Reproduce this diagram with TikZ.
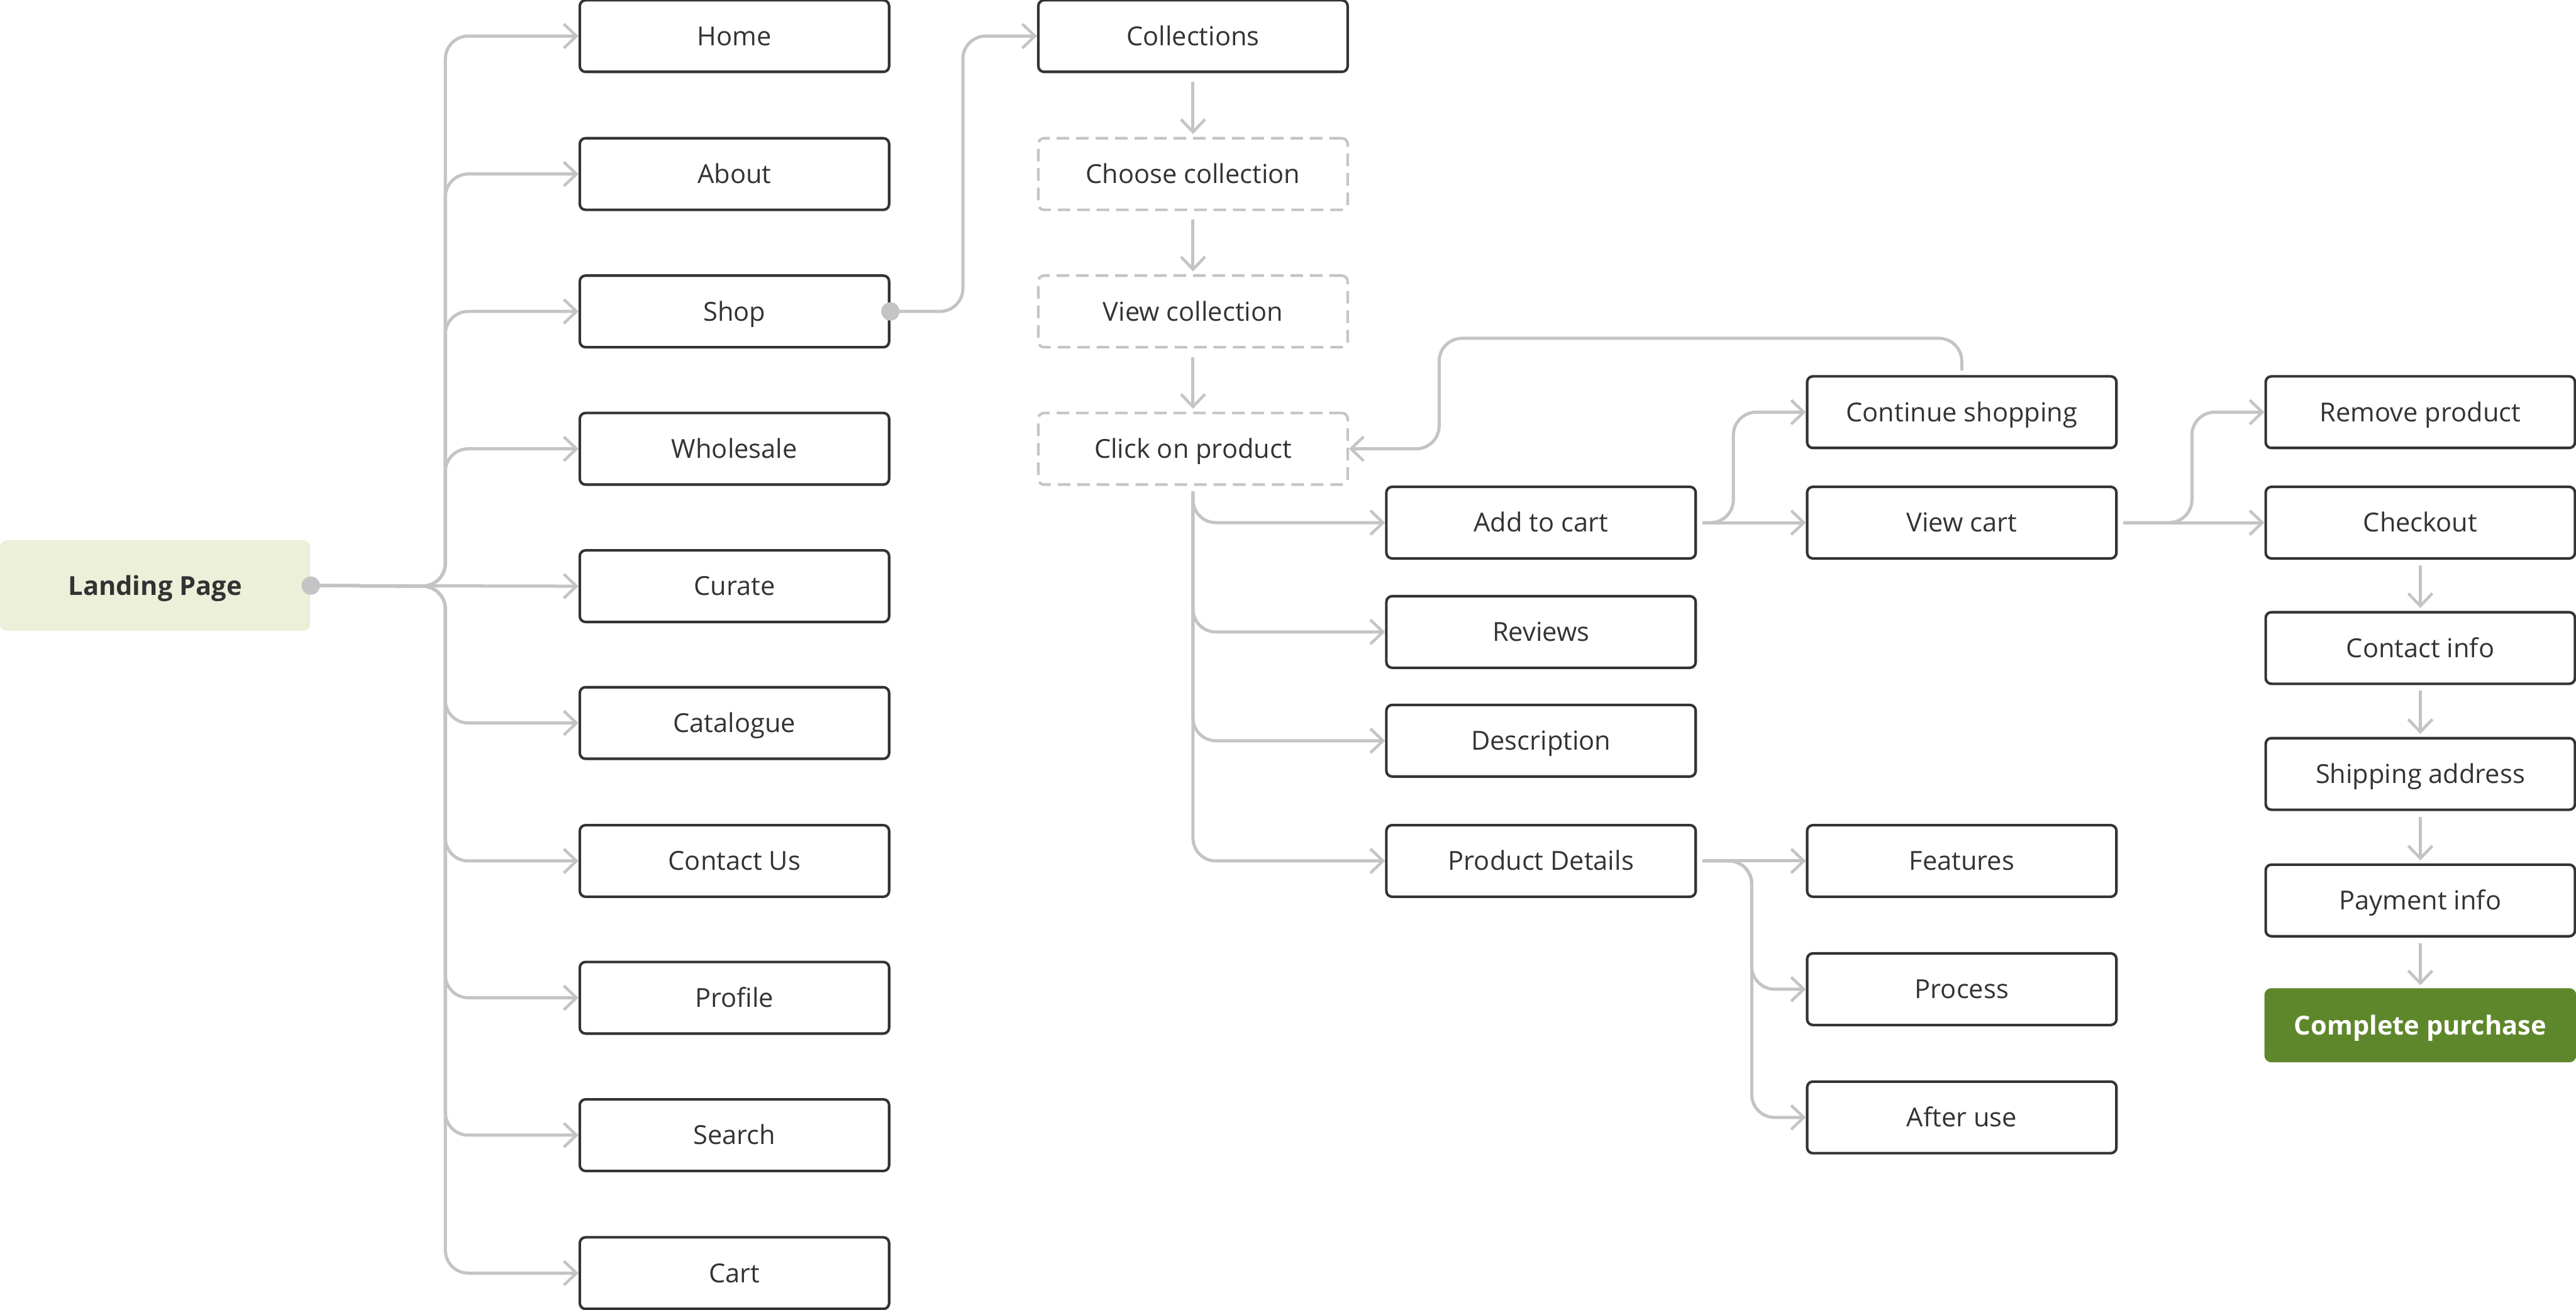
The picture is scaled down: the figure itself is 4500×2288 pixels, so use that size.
\documentclass[tikz,border=0pt]{standalone}
\usepackage{fontspec}
\setmainfont{Open Sans}
\usetikzlibrary{arrows.meta}
\definecolor{lnc}{HTML}{C4C4C4}
\definecolor{bdr}{HTML}{333333}
\definecolor{lfill}{HTML}{ECF0D9}
\definecolor{gfill}{HTML}{5E872C}
\begin{document}
\begin{tikzpicture}[x=0.01cm,y=-0.01cm,
 box/.style={draw=bdr, line width=0.045cm, rounded corners=0.1cm, minimum width=5.4cm, minimum height=1.25cm, text=bdr, font=\fontsize{13}{16}\selectfont, inner sep=0pt, fill=white, text height=11.7pt, text depth=2.4pt},
 dbox/.style={box, draw=lnc, dash pattern=on 0.22cm off 0.12cm},
 conn/.style={draw=lnc, line width=0.055cm, rounded corners=0.4cm, -{Straight Barb[length=0.22cm,width=0.42cm,line width=0.05cm]}},
 dotc/.style={circle, fill=lnc, inner sep=0pt, minimum size=0.32cm}
]
\useasboundingbox (0,0) rectangle (4500,2288);
% landing
\node[fill=lfill, rounded corners=0.12cm, minimum width=5.42cm, minimum height=1.58cm, text=bdr, inner sep=0pt, text height=11.7pt, text depth=2.4pt, font=\fontsize{13}{16}\selectfont\bfseries] (land) at (271,1023) {Landing Page};
% column 1
\node[box] (home) at (1283,63) {Home};
\node[box] (about) at (1283,304) {About};
\node[box] (shop) at (1283,544) {Shop};
\node[box] (whole) at (1283,784) {Wholesale};
\node[box] (curate) at (1283,1024) {Curate};
\node[box] (cata) at (1283,1263) {Catalogue};
\node[box] (contus) at (1283,1504) {Contact Us};
\node[box] (prof) at (1283,1743) {Profile};
\node[box] (search) at (1283,1983) {Search};
\node[box] (cart) at (1283,2224) {Cart};
% column 2
\node[box] (coll) at (2084,63) {Collections};
\node[dbox] (choose) at (2084,304) {Choose collection};
\node[dbox] (viewc) at (2084,544) {View collection};
\node[dbox] (click) at (2084,784) {Click on product};
% column 3
\node[box] (add) at (2692,913) {Add to cart};
\node[box] (rev) at (2692,1104) {Reviews};
\node[box] (desc) at (2692,1294) {Description};
\node[box] (pd) at (2692,1504) {Product Details};
% column 4
\node[box] (cont) at (3427,720) {Continue shopping};
\node[box] (vcart) at (3427,913) {View cart};
\node[box] (feat) at (3427,1504) {Features};
\node[box] (proc) at (3427,1728) {Process};
\node[box] (after) at (3427,1952) {After use};
% column 5
\node[box] (remove) at (4228,720) {Remove product};
\node[box] (check) at (4228,913) {Checkout};
\node[box] (cinfo) at (4228,1132) {Contact info};
\node[box] (ship) at (4228,1352) {Shipping address};
\node[box] (pay) at (4228,1573) {Payment info};
\node[box, fill=gfill, draw=gfill, text=white, font=\fontsize{13}{16}\selectfont\bfseries] (done) at (4228,1791) {Complete purchase};
% landing connectors
\draw[conn] (land.east) -- (778,1024) |- (home.west);
\draw[conn] (land.east) -- (778,1024) |- (about.west);
\draw[conn] (land.east) -- (778,1024) |- (shop.west);
\draw[conn] (land.east) -- (778,1024) |- (whole.west);
\draw[conn] (land.east) -- (curate.west);
\draw[conn] (land.east) -- (778,1024) |- (cata.west);
\draw[conn] (land.east) -- (778,1024) |- (contus.west);
\draw[conn] (land.east) -- (778,1024) |- (prof.west);
\draw[conn] (land.east) -- (778,1024) |- (search.west);
\draw[conn] (land.east) -- (778,1024) |- (cart.west);
\node[dotc] (d1) at (land.east) {};
% shop to collections
\draw[conn] (shop.east) -- (1682,544) |- (coll.west);
\node[dotc] (d2) at (shop.east) {};
% collection chain
\draw[conn, shorten <=0.15cm, shorten >=0.05cm] (coll.south) -- (choose.north);
\draw[conn, shorten <=0.15cm, shorten >=0.05cm] (choose.south) -- (viewc.north);
\draw[conn, shorten <=0.15cm, shorten >=0.05cm] (viewc.south) -- (click.north);
% click branches
\draw[conn, shorten <=0.1cm] (click.south) |- (add.west);
\draw[conn, shorten <=0.1cm] (click.south) |- (rev.west);
\draw[conn, shorten <=0.1cm] (click.south) |- (desc.west);
\draw[conn, shorten <=0.1cm] (click.south) |- (pd.west);
% continue shopping loop
\draw[conn, shorten <=0.08cm] (cont.north) |- (2514,591) |- (click.east);
% add to cart
\draw[conn, shorten <=0.1cm] (add.east) -- (3028,913) |- (cont.west);
\draw[conn, shorten <=0.1cm] (add.east) -- (vcart.west);
% view cart
\draw[conn, shorten <=0.1cm] (vcart.east) -- (3829,913) |- (remove.west);
\draw[conn, shorten <=0.1cm] (vcart.east) -- (check.west);
% checkout chain
\draw[conn, shorten <=0.1cm, shorten >=0.05cm] (check.south) -- (cinfo.north);
\draw[conn, shorten <=0.1cm, shorten >=0.05cm] (cinfo.south) -- (ship.north);
\draw[conn, shorten <=0.1cm, shorten >=0.05cm] (ship.south) -- (pay.north);
\draw[conn, shorten <=0.1cm, shorten >=0.05cm] (pay.south) -- (done.north);
% product details
\draw[conn, shorten <=0.1cm] (pd.east) -- (feat.west);
\draw[conn, shorten <=0.1cm] (pd.east) -- (3060,1504) |- (proc.west);
\draw[conn, shorten <=0.1cm] (pd.east) -- (3060,1504) |- (after.west);
\end{tikzpicture}
\end{document}
